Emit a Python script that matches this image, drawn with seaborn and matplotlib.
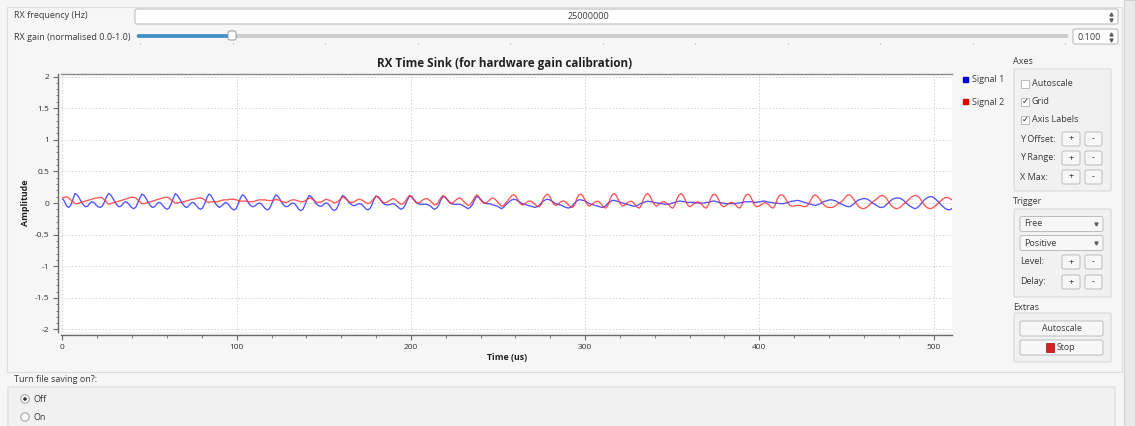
import numpy as np
import pandas as pd
import matplotlib
matplotlib.use("Agg")
import matplotlib.pyplot as plt
from matplotlib.patches import FancyBboxPatch, Rectangle, Circle
from matplotlib.lines import Line2D
from matplotlib.ticker import FixedLocator, MultipleLocator
import seaborn as sns

# ---- data (one sample every 1.2 us) ----
sample_step_us = 1.2

signal_1 = [
    0.07, 0.02, -0.05, -0.07, -0.03, 0.06,
    0.15, 0.13, 0.08, 0.02, -0.03, -0.06, -0.05, -0.01, 0.02, 0.01, -0.03, -0.06, -0.07, -0.05, 0.01, 0.09,
    0.15, 0.13, 0.08, 0.02, -0.03, -0.06, -0.05, -0.01, 0.02, 0.01, -0.03, -0.07, -0.09, -0.07, 0.00, 0.08,
    0.14, 0.12, 0.07, 0.01, -0.04, -0.07, -0.06, -0.02, 0.01, 0.00, -0.04, -0.08, -0.10, -0.08, -0.01, 0.08,
    0.15, 0.12, 0.07, 0.01, -0.04, -0.07, -0.06, -0.02, 0.01, 0.00, -0.04, -0.08, -0.10, -0.08, -0.01, 0.08,
    0.14, 0.12, 0.06, 0.00, -0.04, -0.07, -0.05, -0.02, 0.01, -0.01, -0.05, -0.09, -0.11, -0.09, -0.02, 0.07,
    0.13, 0.11, 0.06, 0.00, -0.04, -0.06, -0.05, -0.02, 0.00, -0.01, -0.05, -0.09, -0.11, -0.09, -0.02, 0.07,
    0.13, 0.11, 0.06, 0.00, -0.04, -0.06, -0.05, -0.02, 0.00, -0.01, -0.05, -0.10, -0.12, -0.10, -0.03, 0.06,
    0.12, 0.10, 0.06, 0.00, -0.03, -0.05, -0.05, -0.02, 0.00, -0.01, -0.05, -0.10, -0.12, -0.10, -0.03, 0.06,
    0.12, 0.10, 0.06, 0.01, -0.02, -0.04, -0.04, -0.02, -0.01, -0.02, -0.05, -0.09, -0.11, -0.09, -0.03, 0.06,
    0.11, 0.10, 0.06, 0.01, -0.02, -0.03, -0.03, -0.02, -0.01, -0.02, -0.05, -0.08, -0.10, -0.08, -0.03, 0.05,
    0.11, 0.10, 0.06, 0.02, -0.01, -0.02, -0.02, -0.02, -0.02, -0.03, -0.05, -0.08, -0.10, -0.08, -0.03, 0.05,
    0.10, 0.09, 0.06, 0.02, -0.01, -0.02, -0.02, -0.02, -0.02, -0.03, -0.05, -0.07, -0.09, -0.07, -0.03, 0.04,
    0.10, 0.09, 0.06, 0.02, 0.00, -0.01, -0.01, -0.02, -0.03, -0.04, -0.05, -0.07, -0.09, -0.07, -0.03, 0.00,
    0.03, 0.05, 0.06, 0.05, 0.03, 0.01, -0.01, -0.02, -0.03, -0.04, -0.05, -0.06, -0.07, -0.06, -0.04, 0.00,
    0.03, 0.05, 0.06, 0.05, 0.03, 0.01, -0.01, -0.02, -0.03, -0.04, -0.06, -0.07, -0.08, -0.07, -0.04, 0.00,
    0.03, 0.05, 0.05, 0.04, 0.03, 0.01, -0.01, -0.02, -0.03, -0.04, -0.05, -0.06, -0.07, -0.06, -0.04, 0.00,
    0.02, 0.04, 0.04, 0.03, 0.02, 0.01, 0.00, -0.01, -0.02, -0.03, -0.04, -0.05, -0.05, -0.04, -0.02, 0.00,
    0.01, 0.02, 0.03, 0.02, 0.02, 0.01, 0.00, 0.00, -0.01, -0.01, -0.02, -0.02, -0.02, -0.01, 0.00, 0.01,
    0.02, 0.03, 0.03, 0.02, 0.02, 0.01, 0.01, 0.01, 0.01, 0.00, 0.00, 0.00, 0.00, 0.00, 0.01, 0.01,
    0.02, 0.03, 0.03, 0.02, 0.01, 0.00, 0.00, -0.01, -0.01, -0.01, -0.01, -0.01, -0.01, 0.00, 0.00, 0.01,
    0.02, 0.02, 0.02, 0.02, 0.02, 0.01, 0.01, 0.02, 0.02, 0.03, 0.03, 0.02, 0.01, 0.01, 0.00, 0.00,
    0.00, -0.01, -0.01, -0.01, 0.00, 0.01, 0.02, 0.03, 0.03, 0.04, 0.04, 0.03, 0.02, 0.01, 0.00, -0.01,
    -0.02, -0.03, -0.04, -0.03, -0.02, 0.00, 0.02, 0.03, 0.04, 0.05, 0.05, 0.04, 0.03, 0.01, -0.01, -0.02,
    -0.04, -0.05, -0.06, -0.05, -0.03, 0.00, 0.03, 0.05, 0.06, 0.07, 0.07, 0.06, 0.04, 0.01, -0.01, -0.03,
    -0.05, -0.07, -0.07, -0.06, -0.03, 0.00, 0.03, 0.06, 0.07, 0.08, 0.08, 0.07, 0.05, 0.02, -0.01, -0.04,
    -0.06, -0.08, -0.09, -0.07, -0.04, 0.00, 0.04, 0.07, 0.09, 0.10, 0.10, 0.08, 0.05, 0.02, -0.02, -0.05,
    -0.08, -0.10, -0.11, -0.10, -0.07,
]

signal_2 = [
    0.08, 0.09, 0.10, 0.08, 0.05, 0.02,
    -0.01, -0.01, 0.00, 0.01, 0.02, 0.03, 0.04, 0.05, 0.06, 0.07, 0.08, 0.08, 0.09, 0.08, 0.05, 0.02,
    -0.02, -0.01, 0.00, 0.01, 0.02, 0.03, 0.04, 0.05, 0.06, 0.07, 0.08, 0.09, 0.09, 0.08, 0.05, 0.02,
    -0.01, -0.01, 0.00, 0.01, 0.02, 0.03, 0.04, 0.05, 0.06, 0.07, 0.08, 0.09, 0.09, 0.08, 0.05, 0.02,
    0.00, 0.00, 0.01, 0.01, 0.02, 0.03, 0.04, 0.05, 0.06, 0.06, 0.07, 0.08, 0.08, 0.07, 0.05, 0.02,
    0.01, 0.02, 0.02, 0.02, 0.02, 0.03, 0.04, 0.05, 0.05, 0.05, 0.06, 0.06, 0.06, 0.05, 0.04, 0.03,
    0.03, 0.03, 0.03, 0.02, 0.02, 0.02, 0.03, 0.04, 0.05, 0.05, 0.05, 0.05, 0.04, 0.04, 0.04, 0.04,
    0.06, 0.05, 0.04, 0.02, 0.01, 0.01, 0.02, 0.04, 0.05, 0.05, 0.04, 0.03, 0.02, 0.02, 0.03, 0.05,
    0.08, 0.07, 0.05, 0.02, 0.01, 0.01, 0.02, 0.04, 0.06, 0.05, 0.04, 0.02, 0.00, 0.01, 0.03, 0.06,
    0.10, 0.08, 0.05, 0.02, 0.01, 0.01, 0.03, 0.05, 0.06, 0.05, 0.03, 0.01, -0.01, 0.00, 0.03, 0.07,
    0.11, 0.09, 0.05, 0.02, 0.00, 0.01, 0.03, 0.05, 0.07, 0.06, 0.03, 0.00, -0.02, -0.01, 0.03, 0.08,
    0.12, 0.10, 0.05, 0.01, 0.00, 0.01, 0.04, 0.06, 0.07, 0.06, 0.03, 0.00, -0.03, -0.02, 0.03, 0.08,
    0.12, 0.10, 0.05, 0.01, -0.01, 0.01, 0.04, 0.07, 0.08, 0.06, 0.02, -0.01, -0.04, -0.03, 0.02, 0.08,
    0.13, 0.11, 0.05, 0.01, -0.01, 0.01, 0.04, 0.07, 0.08, 0.06, 0.02, -0.02, -0.05, -0.04, 0.00, 0.04,
    0.08, 0.12, 0.13, 0.10, 0.04, -0.01, -0.03, -0.02, 0.01, 0.03, 0.03, 0.01, -0.02, -0.05, -0.06, -0.02,
    0.07, 0.12, 0.14, 0.11, 0.04, -0.02, -0.04, -0.02, 0.01, 0.03, 0.03, 0.01, -0.03, -0.06, -0.07, -0.03,
    0.07, 0.13, 0.14, 0.11, 0.04, -0.02, -0.05, -0.03, 0.00, 0.02, 0.03, 0.01, -0.03, -0.07, -0.08, -0.03,
    0.07, 0.13, 0.15, 0.11, 0.04, -0.02, -0.05, -0.03, 0.00, 0.02, 0.03, 0.01, -0.03, -0.07, -0.08, -0.03,
    0.07, 0.13, 0.15, 0.11, 0.04, -0.02, -0.05, -0.03, 0.00, 0.02, 0.02, 0.00, -0.03, -0.07, -0.08, -0.03,
    0.07, 0.13, 0.15, 0.11, 0.04, -0.03, -0.06, -0.04, -0.01, 0.01, 0.02, 0.00, -0.03, -0.07, -0.08, -0.03,
    0.07, 0.13, 0.14, 0.11, 0.04, -0.03, -0.06, -0.05, -0.02, 0.00, 0.01, 0.00, -0.03, -0.07, -0.08, -0.03,
    0.07, 0.13, 0.14, 0.11, 0.04, -0.03, -0.06, -0.05, -0.03, -0.01, 0.01, -0.01, -0.03, -0.07, -0.08, -0.03,
    0.07, 0.12, 0.13, 0.11, 0.06, 0.00, -0.04, -0.05, -0.05, -0.04, -0.04, -0.04, -0.05, -0.06, -0.05, -0.01,
    0.05, 0.11, 0.13, 0.11, 0.07, 0.02, -0.02, -0.05, -0.07, -0.07, -0.07, -0.06, -0.04, -0.01, 0.01, 0.03,
    0.07, 0.11, 0.13, 0.12, 0.08, 0.03, -0.02, -0.06, -0.08, -0.09, -0.08, -0.06, -0.03, 0.00, 0.03, 0.05,
    0.08, 0.11, 0.12, 0.11, 0.08, 0.03, -0.02, -0.06, -0.08, -0.09, -0.08, -0.06, -0.03, 0.00, 0.03, 0.06,
    0.09, 0.11, 0.12, 0.11, 0.08, 0.03, -0.02, -0.06, -0.08, -0.09, -0.08, -0.06, -0.03, 0.00, 0.03, 0.06,
    0.08, 0.09, 0.08, 0.06, 0.04,
]

series_names = ["Signal 1", "Signal 2"]
series_colors = ["#2626ff", "#ff2a2a"]
legend_colors = ["#0000e0", "#e00000"]
x_ticks = [0, 100, 200, 300, 400, 500]
x_tick_labels = ["0", "100", "200", "300", "400", "500"]
y_ticks = [-2, -1.5, -1, -0.5, 0, 0.5, 1, 1.5, 2]
y_tick_labels = ["-2", "-1.5", "-1", "-0.5", "0", "0.5", "1", "1.5", "2"]

time_us = np.arange(len(signal_1)) * sample_step_us
df = pd.concat([
    pd.DataFrame({"time_us": time_us, "amplitude": signal_1, "signal": series_names[0]}),
    pd.DataFrame({"time_us": time_us, "amplitude": signal_2, "signal": series_names[1]}),
])

# ---- figure ----
sns.set_theme(style="white")
plt.rcParams["font.family"] = ["Open Sans", "DejaVu Sans"]

W, H = 1135, 426
fig = plt.figure(figsize=(W / 100, H / 100), dpi=100)
fig.patch.set_facecolor("#f6f6f6")


def frac(x0, y0, x1, y1):
    return [x0 / W, 1 - y1 / H, (x1 - x0) / W, (y1 - y0) / H]


ui = fig.add_axes([0, 0, 1, 1], zorder=0)
ui.set_xlim(0, W)
ui.set_ylim(H, 0)
ui.axis("off")

TXT = "#3a3a3a"
UI_SIZE = 6.5


def box(x0, y0, x1, y1, fc, ec, lw=0.8, r=2.0, z=1):
    ui.add_patch(FancyBboxPatch((x0, y0), x1 - x0, y1 - y0,
                                boxstyle=f"round,pad=0,rounding_size={r}",
                                fc=fc, ec=ec, lw=lw, zorder=z))


def label(x, y, s, size=UI_SIZE, **kw):
    ui.text(x, y, s, fontsize=size, color=TXT, va="center", zorder=5, **kw)


def spin_arrows(x, y0, y1):
    ui.plot([x], [y0], marker="^", ms=2.2, color="#606060", zorder=6)
    ui.plot([x], [y1], marker="v", ms=2.2, color="#606060", zorder=6)


def button(x0, y0, x1, y1, s):
    box(x0, y0, x1, y1, "#f7f7f7", "#bcbcbc", lw=0.7, r=2)
    label((x0 + x1) / 2, (y0 + y1) / 2, s, size=6.3, ha="center")


# outer frame + scrollbar
ui.add_patch(Rectangle((7, 7), 1115, 365, fc="none", ec="#dedede", lw=0.8))
ui.add_patch(Rectangle((1124, 0), 11, H, fc="#e9e9e9", ec="#d2d2d2", lw=0.8))

# top controls
label(14, 16, "RX frequency (Hz)")
box(135, 9, 1118, 24, "white", "#bdbdbd", lw=0.8, r=2)
label(568, 16.5, "25000000")
spin_arrows(1111, 14, 19.5)

label(14, 37, "RX gain (normalised 0.0-1.0)")
box(137, 34.5, 1068, 37.5, "#cfcfcf", "#bdbdbd", lw=0.4, r=1.5)
box(137, 34.5, 232, 37.5, "#3d8ec9", "#3d8ec9", lw=0.4, r=1.5, z=2)
box(228, 31, 236, 40, "white", "#9a9a9a", lw=0.7, r=2, z=3)
for tx in np.linspace(140, 1065, 11):
    ui.plot([tx, tx], [42.5, 44], color="#b5b5b5", lw=0.6)
box(1073, 29, 1118, 44, "white", "#bdbdbd", lw=0.8, r=2)
label(1078, 37, "0.100")
spin_arrows(1111, 34, 39.5)

# right-hand control panel
label(1013, 62, "Axes")
box(1014, 69, 1111, 191, "#f1f1f1", "#dadada", lw=0.8, r=1)
for yy, txt, checked in [(83.5, "Autoscale", False), (101.5, "Grid", True), (119.5, "Axis Labels", True)]:
    ui.add_patch(Rectangle((1021, yy - 4), 8, 8, fc="white", ec="#b0b0b0", lw=0.6, zorder=4))
    if checked:
        ui.text(1025, yy + 0.3, "\u2713", fontsize=6, ha="center", va="center",
                color="#222222", family=["DejaVu Sans"], zorder=6)
    label(1032, yy, txt)
for yy, txt in [(139, "Y Offset:"), (158, "Y Range:"), (177, "X Max:")]:
    label(1020, yy, txt)
    button(1062, yy - 7, 1080, yy + 7, "+")
    button(1085, yy - 7, 1102, yy + 7, "-")

label(1013, 202, "Trigger")
box(1014, 209, 1111, 297, "#f1f1f1", "#dadada", lw=0.8, r=1)
for yy, txt in [(224, "Free"), (243, "Positive")]:
    box(1020, yy - 7.5, 1103, yy + 7.5, "#f7f7f7", "#bcbcbc", lw=0.7, r=2)
    label(1024, yy, txt)
    ui.plot([1096], [yy], marker="v", ms=2.2, color="#606060", zorder=6)
for yy, txt in [(262, "Level:"), (282, "Delay:")]:
    label(1020, yy, txt)
    button(1062, yy - 7, 1080, yy + 7, "+")
    button(1085, yy - 7, 1102, yy + 7, "-")

label(1013, 307, "Extras")
box(1014, 313, 1111, 362, "#f1f1f1", "#dadada", lw=0.8, r=1)
button(1020, 321, 1103, 336, "Autoscale")
box(1020, 340, 1103, 355, "#f7f7f7", "#bcbcbc", lw=0.7, r=2)
ui.add_patch(Rectangle((1046, 343), 8, 9, fc="#d42222", ec="#a01010", lw=0.5, zorder=5))
label(1057, 348, "Stop", size=6.3)

# file saving radio group
label(14, 380, "Turn file saving on?:")
box(8, 387, 1115, 440, "#f1f1f1", "#dadada", lw=0.8, r=1)
ui.add_patch(Circle((25, 399), 4.2, fc="white", ec="#9a9a9a", lw=0.7, zorder=4))
ui.add_patch(Circle((25, 399), 1.8, fc="#333333", ec="none", zorder=5))
label(33, 399, "Off")
ui.add_patch(Circle((25, 417), 4.2, fc="white", ec="#9a9a9a", lw=0.7, zorder=4))
label(33, 417, "On")

# ---- time sink plot ----
ax = fig.add_axes(frac(61, 74, 952, 332), zorder=2)
ax.set_facecolor("white")
sns.lineplot(data=df, x="time_us", y="amplitude", hue="signal",
             palette=dict(zip(series_names, series_colors)), estimator=None,
             linewidth=0.95, alpha=0.8, legend=False, ax=ax)

ax.set_xlim(-0.86, 510.6)
ax.set_ylim(-2.04, 2.04)
ax.xaxis.set_major_locator(FixedLocator(x_ticks))
ax.set_xticklabels(x_tick_labels)
ax.xaxis.set_minor_locator(MultipleLocator(20))
ax.yaxis.set_major_locator(FixedLocator(y_ticks))
ax.set_yticklabels(y_tick_labels)
ax.yaxis.set_minor_locator(MultipleLocator(0.1))

ax.grid(True, which="major", color="#d4d4d4", linestyle=(0, (1.5, 2)), linewidth=0.7)
ax.set_axisbelow(True)

ax.spines["right"].set_visible(False)
ax.spines["top"].set_color("#8a8a8a")
ax.spines["top"].set_linewidth(1.0)
for side in ["left", "bottom"]:
    ax.spines[side].set_position(("outward", 2.5))
    ax.spines[side].set_color("#6a6a6a")
    ax.spines[side].set_linewidth(1.0)

ax.tick_params(axis="both", which="major", direction="out", length=3.5, width=0.8,
               color="#6a6a6a", labelsize=6.0, labelcolor="#333333", pad=2.5,
               left=True, bottom=True)
ax.tick_params(axis="both", which="minor", direction="out", length=1.8, width=0.6,
               color="#6a6a6a", left=True, bottom=True)

ax.set_xlabel("Time (us)", fontsize=6.4, fontweight="bold", color="#222222", va="center")
ax.xaxis.set_label_coords(0.5006, (332 - 358) / 258)
ax.set_ylabel("Amplitude", fontsize=6.4, fontweight="bold", color="#222222", va="center")
ax.yaxis.set_label_coords((25 - 61) / 891, 0.5)

ui.text(505, 64, "RX Time Sink (for hardware gain calibration)", fontsize=8.4,
        fontweight="bold", color="#222222", ha="center", va="center")

handles = [Line2D([0], [0], marker="s", ls="", color=c, markersize=3.6) for c in legend_colors]
ax.legend(handles, series_names, loc="upper left", bbox_to_anchor=(962 / W, 1 - 75 / H),
          bbox_transform=fig.transFigure, frameon=False, fontsize=6.5, handlelength=0.6,
          handletextpad=0.5, labelspacing=1.5, borderaxespad=0, borderpad=0,
          labelcolor=TXT)

fig.savefig("out.png", dpi=100, facecolor=fig.get_facecolor())
print("saved out.png")
